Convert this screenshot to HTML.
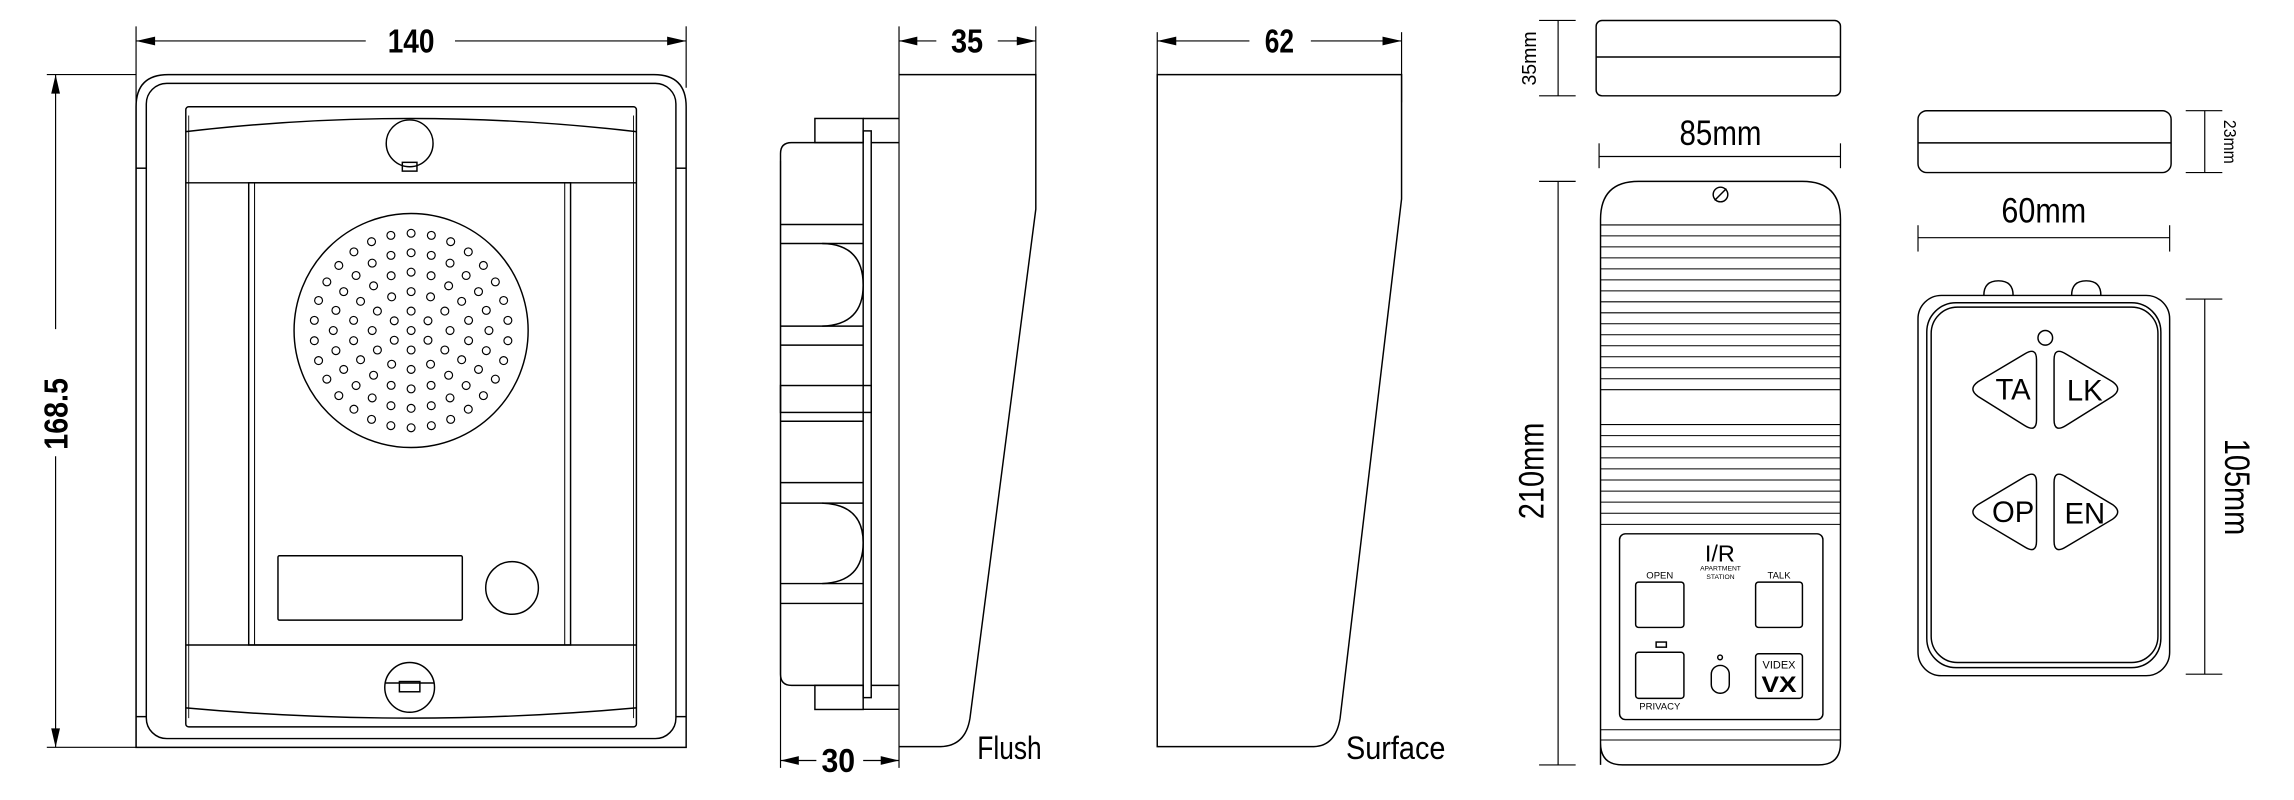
<!DOCTYPE html>
<html><head><meta charset="utf-8">
<style>
html,body{margin:0;padding:0;background:#fff;}
svg{display:block;}
text{font-family:"Liberation Sans Narrow","Liberation Sans",sans-serif;fill:#000;}
.b{font-weight:bold;}
</style></head>
<body>
<svg id="s" width="2294" height="800" viewBox="0 0 1568 547" preserveAspectRatio="none" xmlns="http://www.w3.org/2000/svg">
<g fill="none" stroke="#000" stroke-width="1">
<!-- ===== Device 1 front ===== -->
<line x1="93" y1="18" x2="93" y2="511" stroke-width="0.8"/>
<line x1="469" y1="18" x2="469" y2="60" stroke-width="0.8"/>
<line x1="93" y1="28" x2="250" y2="28" stroke-width="0.8"/>
<line x1="311" y1="28" x2="469" y2="28" stroke-width="0.8"/>
<line x1="32" y1="51" x2="93" y2="51" stroke-width="0.8"/>
<line x1="32" y1="511" x2="93" y2="511" stroke-width="0.8"/>
<line x1="38" y1="51" x2="38" y2="225" stroke-width="0.8"/>
<line x1="38" y1="312" x2="38" y2="511" stroke-width="0.8"/>
<path d="M93,511 L93,73 Q93,51 115,51 L447,51 Q469,51 469,73 L469,511 Z"/>
<rect x="100" y="57" width="362" height="448" rx="14"/>
<line x1="93" y1="115" x2="100" y2="115"/><line x1="462" y1="115" x2="469" y2="115"/>
<line x1="93" y1="490" x2="100" y2="490"/><line x1="462" y1="490" x2="469" y2="490"/>
<rect x="127" y="73" width="308" height="424" rx="2"/>
<line x1="129" y1="79" x2="129" y2="491" stroke-width="0.6"/>
<line x1="433" y1="79" x2="433" y2="491" stroke-width="0.6"/>
<path d="M127,90 Q280,72 435,90"/>
<line x1="127" y1="125" x2="435" y2="125"/>
<line x1="127" y1="441" x2="435" y2="441"/>
<path d="M127,484 Q280,498 435,484"/>
<rect x="170" y="125" width="220" height="316"/>
<line x1="174" y1="125" x2="174" y2="441" stroke-width="0.7"/>
<line x1="386" y1="125" x2="386" y2="441" stroke-width="0.7"/>
<circle cx="280" cy="98" r="16"/>
<rect x="275" y="111" width="10" height="6"/>
<circle cx="281" cy="226" r="80"/>
<g id="holes" stroke-width="0.8"></g>
<rect x="190" y="380" width="126" height="44" rx="1"/>
<circle cx="350" cy="402" r="18"/>
<circle cx="280" cy="470" r="17"/>
<line x1="263" y1="467" x2="297" y2="467"/>
<rect x="273" y="466" width="14" height="7"/>

<!-- ===== Flush side ===== -->
<line x1="614.5" y1="18" x2="614.5" y2="525" stroke-width="0.8"/>
<line x1="708" y1="18" x2="708" y2="51" stroke-width="0.8"/>
<line x1="614.5" y1="28" x2="640" y2="28" stroke-width="0.8"/>
<line x1="682" y1="28" x2="708" y2="28" stroke-width="0.8"/>
<path d="M614.5,51 L708,51 L708,143 L663,491 Q660,510 643,510.5 L614.5,510.5"/>
<line x1="533.5" y1="110" x2="533.5" y2="525" stroke-width="0.8"/>
<line x1="533.5" y1="520" x2="558" y2="520" stroke-width="0.8"/>
<line x1="590" y1="520" x2="614.5" y2="520" stroke-width="0.8"/>
<path d="M590,97.5 L541,97.5 Q533.5,97.5 533.5,105 L533.5,461 Q533.5,468.6 541,468.6 L590,468.6"/>
<rect x="557" y="81" width="33" height="16.5"/>
<rect x="557" y="468.6" width="33" height="16.5"/>
<line x1="590" y1="81" x2="614.5" y2="81"/><line x1="595.5" y1="97.5" x2="614.5" y2="97.5"/>
<line x1="595.5" y1="468.6" x2="614.5" y2="468.6"/><line x1="590" y1="485" x2="614.5" y2="485"/>
<rect x="590" y="89.5" width="5.5" height="387.5"/>
<line x1="533.5" y1="153.5" x2="590" y2="153.5"/>
<line x1="533.5" y1="166.5" x2="590" y2="166.5"/>
<line x1="533.5" y1="223" x2="590" y2="223"/>
<path d="M562,166.5 Q590,167 590,195 Q590,222 562,223"/>
<line x1="533.5" y1="236" x2="590" y2="236"/>
<rect x="533.5" y="263.6" width="62" height="18.4"/>
<line x1="533.5" y1="288" x2="590" y2="288"/>
<line x1="533.5" y1="330" x2="590" y2="330"/>
<line x1="533.5" y1="344" x2="590" y2="344"/>
<line x1="533.5" y1="399" x2="590" y2="399"/>
<path d="M562,344 Q590,345 590,371 Q590,398 562,399"/>
<line x1="533.5" y1="412.6" x2="590" y2="412.6"/>

<!-- ===== Surface side ===== -->
<line x1="791" y1="22" x2="791" y2="51" stroke-width="0.8"/>
<line x1="958" y1="22" x2="958" y2="70" stroke-width="0.8"/>
<line x1="791" y1="28" x2="854" y2="28" stroke-width="0.8"/>
<line x1="896" y1="28" x2="958" y2="28" stroke-width="0.8"/>
<path d="M791,51 L958,51 L958,136 L916,491 Q913,510 898,510.5 L791,510.5 Z"/>

<!-- ===== Apartment station ===== -->
<rect x="1091" y="14" width="167" height="51.5" rx="4"/>
<line x1="1091" y1="39" x2="1258" y2="39"/>
<line x1="1065" y1="14" x2="1065" y2="65.5" stroke-width="0.8"/>
<line x1="1052" y1="14" x2="1077" y2="14" stroke-width="0.8"/>
<line x1="1052" y1="65.5" x2="1077" y2="65.5" stroke-width="0.8"/>
<line x1="1093" y1="107" x2="1258" y2="107" stroke-width="0.8"/>
<line x1="1093" y1="98" x2="1093" y2="115" stroke-width="0.8"/>
<line x1="1258" y1="98" x2="1258" y2="115" stroke-width="0.8"/>
<path d="M1094,523 L1094,150 Q1094,124 1120,124 L1232,124 Q1258,124 1258,150 L1258,508 Q1258,523 1243,523 L1109,523 Q1094,523 1094,508 Z"/>
<circle cx="1176" cy="133" r="5"/><line x1="1172" y1="137" x2="1180" y2="129"/>
<g id="grille" stroke-width="0.7"></g>
<line x1="1094" y1="499" x2="1258" y2="499" stroke-width="0.7"/>
<line x1="1094" y1="506" x2="1258" y2="506" stroke-width="0.7"/>
<rect x="1107" y="365" width="139" height="127" rx="4"/>
<rect x="1118" y="398" width="33" height="31" rx="2"/>
<rect x="1200" y="398" width="32" height="31" rx="2"/>
<rect x="1132" y="439" width="7" height="3.5"/>
<rect x="1118" y="446" width="33" height="31.5" rx="2"/>
<circle cx="1175.7" cy="449.5" r="1.6"/>
<rect x="1169.7" y="455" width="12.3" height="19" rx="6"/>
<rect x="1200" y="447" width="32" height="30.5" rx="2"/>
<line x1="1065" y1="124" x2="1065" y2="523" stroke-width="0.8"/>
<line x1="1052" y1="124" x2="1077" y2="124" stroke-width="0.8"/>
<line x1="1052" y1="523" x2="1077" y2="523" stroke-width="0.8"/>

<!-- ===== Remote ===== -->
<rect x="1311" y="75.7" width="173" height="42.3" rx="6"/>
<line x1="1311" y1="97.7" x2="1484" y2="97.7"/>
<line x1="1507" y1="75.7" x2="1507" y2="118" stroke-width="0.8"/>
<line x1="1494" y1="75.7" x2="1519" y2="75.7" stroke-width="0.8"/>
<line x1="1494" y1="118" x2="1519" y2="118" stroke-width="0.8"/>
<line x1="1311" y1="162.5" x2="1483" y2="162.5" stroke-width="0.8"/>
<line x1="1311" y1="154" x2="1311" y2="172" stroke-width="0.8"/>
<line x1="1483" y1="154" x2="1483" y2="172" stroke-width="0.8"/>
<path d="M1356,202 Q1356,192 1366,192 Q1376,192 1376,202"/>
<path d="M1416,202 Q1416,192 1426,192 Q1436,192 1436,202"/>
<rect x="1311" y="202" width="172" height="260" rx="16"/>
<rect x="1317" y="207" width="160" height="249.5" rx="20"/>
<rect x="1320" y="210" width="155" height="243" rx="18"/>
<circle cx="1398" cy="231" r="5"/>
<path d="M1392,246 Q1392,237 1384,242 L1352,261 Q1345,266 1352,271 L1384,291 Q1392,296 1392,287 Z"/>
<path d="M1404,246 Q1404,237 1412,242 L1444,261 Q1451,266 1444,271 L1412,291 Q1404,296 1404,287 Z"/>
<path d="M1392,330 Q1392,321 1384,326 L1352,345 Q1345,350 1352,355 L1384,374 Q1392,379 1392,370 Z"/>
<path d="M1404,330 Q1404,321 1412,326 L1444,345 Q1451,350 1444,355 L1412,374 Q1404,379 1404,370 Z"/>
<line x1="1507" y1="204.5" x2="1507" y2="461" stroke-width="0.8"/>
<line x1="1494" y1="204.5" x2="1519" y2="204.5" stroke-width="0.8"/>
<line x1="1494" y1="461" x2="1519" y2="461" stroke-width="0.8"/>
</g>
<!-- arrowheads -->
<g fill="#000" stroke="none">
<polygon points="93,28 106,25 106,31"/><polygon points="469,28 456,25 456,31"/>
<polygon points="38,51 35,64 41,64"/><polygon points="38,511 35,498 41,498"/>
<polygon points="614.5,28 627,25 627,31"/><polygon points="708,28 695,25 695,31"/>
<polygon points="533.5,520 546,517 546,523"/><polygon points="614.5,520 602,517 602,523"/>
<polygon points="791,28 804,25 804,31"/><polygon points="958,28 945,25 945,31"/>
</g>
<!-- text -->
<text class="b" x="281" y="36" font-size="23" text-anchor="middle" textLength="32" lengthAdjust="spacingAndGlyphs">140</text>
<text class="b" transform="translate(46,283) rotate(-90)" font-size="23" text-anchor="middle" textLength="49" lengthAdjust="spacingAndGlyphs">168.5</text>
<text class="b" x="661" y="36" font-size="23" text-anchor="middle" textLength="22" lengthAdjust="spacingAndGlyphs">35</text>
<text class="b" x="573" y="528" font-size="23" text-anchor="middle" textLength="23" lengthAdjust="spacingAndGlyphs">30</text>
<text class="b" x="874.5" y="36" font-size="23" text-anchor="middle" textLength="20" lengthAdjust="spacingAndGlyphs">62</text>
<text x="668" y="519" font-size="22" textLength="44" lengthAdjust="spacingAndGlyphs">Flush</text>
<text x="920" y="519" font-size="22" textLength="68" lengthAdjust="spacingAndGlyphs">Surface</text>
<text transform="translate(1050,40) rotate(-90)" font-size="14" text-anchor="middle" textLength="37" lengthAdjust="spacingAndGlyphs">35mm</text>
<text x="1176" y="99" font-size="24" text-anchor="middle" textLength="56" lengthAdjust="spacingAndGlyphs">85mm</text>
<text transform="translate(1055,322) rotate(-90)" font-size="24" text-anchor="middle" textLength="66" lengthAdjust="spacingAndGlyphs">210mm</text>
<text x="1175.5" y="384" font-size="16" text-anchor="middle" font-family="Liberation Sans, sans-serif">I/R</text>
<text x="1176" y="390" font-size="4.6" text-anchor="middle" font-family="Liberation Sans, sans-serif">APARTMENT</text>
<text x="1176" y="396" font-size="4.6" text-anchor="middle" font-family="Liberation Sans, sans-serif">STATION</text>
<text x="1134.5" y="395.5" font-size="6.5" text-anchor="middle" font-family="Liberation Sans, sans-serif">OPEN</text>
<text x="1216" y="395.5" font-size="6.5" text-anchor="middle" font-family="Liberation Sans, sans-serif">TALK</text>
<text x="1134.5" y="485" font-size="6.5" text-anchor="middle" font-family="Liberation Sans, sans-serif">PRIVACY</text>
<text x="1216" y="457" font-size="7.5" text-anchor="middle" font-family="Liberation Sans, sans-serif">VIDEX</text>
<text x="1216" y="473" font-size="15" font-weight="bold" text-anchor="middle" font-family="Liberation Sans, sans-serif" textLength="24" lengthAdjust="spacingAndGlyphs">VX</text>
<text x="1397" y="152" font-size="24" text-anchor="middle" textLength="58" lengthAdjust="spacingAndGlyphs">60mm</text>
<text transform="translate(1520,97) rotate(90)" font-size="12" text-anchor="middle" textLength="30" lengthAdjust="spacingAndGlyphs">23mm</text>
<text transform="translate(1521,333) rotate(90)" font-size="24" text-anchor="middle" textLength="66" lengthAdjust="spacingAndGlyphs">105mm</text>
<g font-family="Liberation Sans, sans-serif" font-size="20" text-anchor="middle">
<text x="1376" y="273">TA</text>
<text x="1425" y="274">LK</text>
<text x="1376" y="357">OP</text>
<text x="1425" y="358">EN</text>
</g>
</svg>
<script>
(function(){
var ns="http://www.w3.org/2000/svg";
var h=document.getElementById("holes");
var cx=281,cy=226;
var counts=[1,6,12,18,24,30];
for(var k=0;k<counts.length;k++){
 var r=k*13.3,n=counts[k];
 for(var i=0;i<n;i++){
  var a=(i/n)*2*Math.PI+(k%2?Math.PI/n:0);
  var c=document.createElementNS(ns,"circle");
  c.setAttribute("cx",(cx+r*Math.cos(a)).toFixed(2));
  c.setAttribute("cy",(cy+r*Math.sin(a)).toFixed(2));
  c.setAttribute("r","2.7");
  h.appendChild(c);
 }
}
var g=document.getElementById("grille");
function ln(y){var l=document.createElementNS(ns,"line");l.setAttribute("x1",1094);l.setAttribute("x2",1258);l.setAttribute("y1",y);l.setAttribute("y2",y);g.appendChild(l);}
for(var j=0;j<16;j++)ln(153.8+j*7.51);
for(var j=0;j<10;j++)ln(290.3+j*7.58);
})();
</script>
</body></html>
